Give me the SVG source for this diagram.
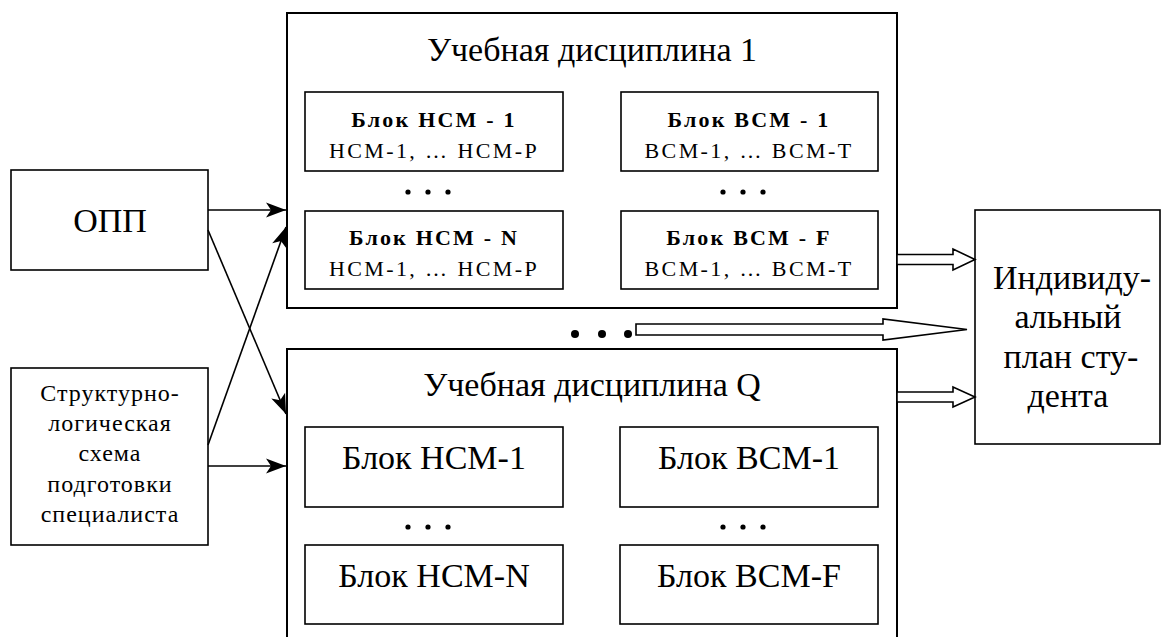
<svg xmlns="http://www.w3.org/2000/svg" width="1162" height="637" viewBox="0 0 1162 637">
  <style>
    .box { fill: #fff; stroke: #000; stroke-width: 1.6; }
    .frame { fill: #fff; stroke: #000; stroke-width: 2; }
    .big { font-family: "Liberation Serif", "Times New Roman", serif; font-size: 34px; fill: #000; text-anchor: middle; }
    .mid { font-family: "Liberation Serif", "Times New Roman", serif; font-size: 24px; fill: #000; text-anchor: middle; letter-spacing: 1px; }
    .head { font-family: "Liberation Serif", "Times New Roman", serif; font-size: 22px; font-weight: bold; fill: #000; text-anchor: middle; letter-spacing: 2.2px; }
    .sub { font-family: "Liberation Serif", "Times New Roman", serif; font-size: 22px; fill: #000; text-anchor: middle; letter-spacing: 2.4px; }
    .link { fill: none; stroke: #000; stroke-width: 1.6; marker-end: url(#arrow); }
    .block { fill: #fff; stroke: #000; stroke-width: 1.6; stroke-linejoin: miter; }
    .dot { fill: #000; }
  </style>
  <defs>
    <marker id="arrow" markerUnits="userSpaceOnUse" markerWidth="24" markerHeight="18" viewBox="-22 -9 24 18" refX="0" refY="0" orient="auto">
      <path d="M-20,-7.5 L0,0 L-20,7.5 L-15,0 Z" fill="#000"/>
    </marker>
  </defs>

  <rect width="1162" height="637" fill="#fff"/>

  <!-- course unit 1 -->
  <g id="discipline-1">
    <rect class="frame" x="287" y="13" width="610" height="295"/>
    <text class="big" x="592" y="61">Учебная дисциплина 1</text>
    <g id="block-ncm-1">
      <rect class="box" x="305" y="92" width="258" height="79"/>
      <text class="head" x="434" y="127">Блок НСМ - 1</text>
      <text class="sub" x="434" y="158">НСМ-1, … НСМ-Р</text>
    </g>
    <g id="block-ncm-n">
      <rect class="box" x="305" y="211" width="258" height="78"/>
      <text class="head" x="434" y="245">Блок НСМ - N</text>
      <text class="sub" x="434" y="276">НСМ-1, … НСМ-Р</text>
    </g>
    <g id="block-vcm-1">
      <rect class="box" x="621" y="92" width="257" height="79"/>
      <text class="head" x="749" y="127">Блок ВСМ - 1</text>
      <text class="sub" x="749" y="158">ВСМ-1, … ВСМ-Т</text>
    </g>
    <g id="block-vcm-f">
      <rect class="box" x="621" y="211" width="257" height="78"/>
      <text class="head" x="749" y="245">Блок ВСМ - F</text>
      <text class="sub" x="749" y="276">ВСМ-1, … ВСМ-Т</text>
    </g>
    <circle class="dot" cx="408" cy="192" r="2.6"/>
    <circle class="dot" cx="428" cy="192" r="2.6"/>
    <circle class="dot" cx="448" cy="192" r="2.6"/>
    <circle class="dot" cx="723" cy="192" r="2.6"/>
    <circle class="dot" cx="743" cy="192" r="2.6"/>
    <circle class="dot" cx="763" cy="192" r="2.6"/>
  </g>

  <!-- course unit Q -->
  <g id="discipline-q">
    <rect class="frame" x="287" y="349" width="610" height="320"/>
    <text class="big" x="592" y="396">Учебная дисциплина Q</text>
    <g id="q-block-ncm-1">
      <rect class="box" x="305" y="427" width="258" height="80"/>
      <text class="big" x="434" y="469">Блок НСМ-1</text>
    </g>
    <g id="q-block-ncm-n">
      <rect class="box" x="305" y="545" width="258" height="79"/>
      <text class="big" x="434" y="587">Блок НСМ-N</text>
    </g>
    <g id="q-block-vcm-1">
      <rect class="box" x="620" y="427" width="258" height="80"/>
      <text class="big" x="749" y="469">Блок ВСМ-1</text>
    </g>
    <g id="q-block-vcm-f">
      <rect class="box" x="620" y="545" width="258" height="79"/>
      <text class="big" x="749" y="587">Блок ВСМ-F</text>
    </g>
    <circle class="dot" cx="408" cy="527" r="2.6"/>
    <circle class="dot" cx="428" cy="527" r="2.6"/>
    <circle class="dot" cx="448" cy="527" r="2.6"/>
    <circle class="dot" cx="723" cy="527" r="2.6"/>
    <circle class="dot" cx="743" cy="527" r="2.6"/>
    <circle class="dot" cx="763" cy="527" r="2.6"/>
  </g>

  <!-- further disciplines between 1 and Q -->
  <g id="more-disciplines">
    <circle class="dot" cx="575" cy="334" r="4"/>
    <circle class="dot" cx="602" cy="334" r="4"/>
    <circle class="dot" cx="628" cy="334" r="4"/>
  </g>

  <g id="opp">
    <rect class="box" x="11" y="170" width="197" height="100"/>
    <text class="big" x="110" y="232">ОПП</text>
  </g>

  <g id="structure-scheme">
    <rect class="box" x="11" y="368" width="197" height="177"/>
    <text class="mid" x="110" y="401">Структурно-</text>
    <text class="mid" x="110" y="431">логическая</text>
    <text class="mid" x="110" y="461">схема</text>
    <text class="mid" x="110" y="492">подготовки</text>
    <text class="mid" x="110" y="522">специалиста</text>
  </g>

  <g id="student-plan">
    <rect class="box" x="975" y="210" width="185" height="234"/>
    <text class="big" x="1072" y="289">Индивиду-</text>
    <text class="big" x="1068" y="328">альный</text>
    <text class="big" x="1071" y="368">план сту-</text>
    <text class="big" x="1068" y="407">дента</text>
  </g>

  <g id="connectors">
    <line class="link" x1="208" y1="210" x2="286" y2="210"/>
    <line class="link" x1="208" y1="230" x2="286" y2="414"/>
    <line class="link" x1="208" y1="445" x2="286" y2="227"/>
    <line class="link" x1="208" y1="466" x2="286" y2="466"/>
    <polygon class="block" points="897,254.5 953,254.5 953,249 975,259.5 953,270 953,264.5 897,264.5"/>
    <polygon class="block" points="636,324 883,324 883,319 967,329.5 883,340 883,335 636,335"/>
    <polygon class="block" points="897,392 953,392 953,387 975,397 953,407 953,402 897,402"/>
  </g>
</svg>
